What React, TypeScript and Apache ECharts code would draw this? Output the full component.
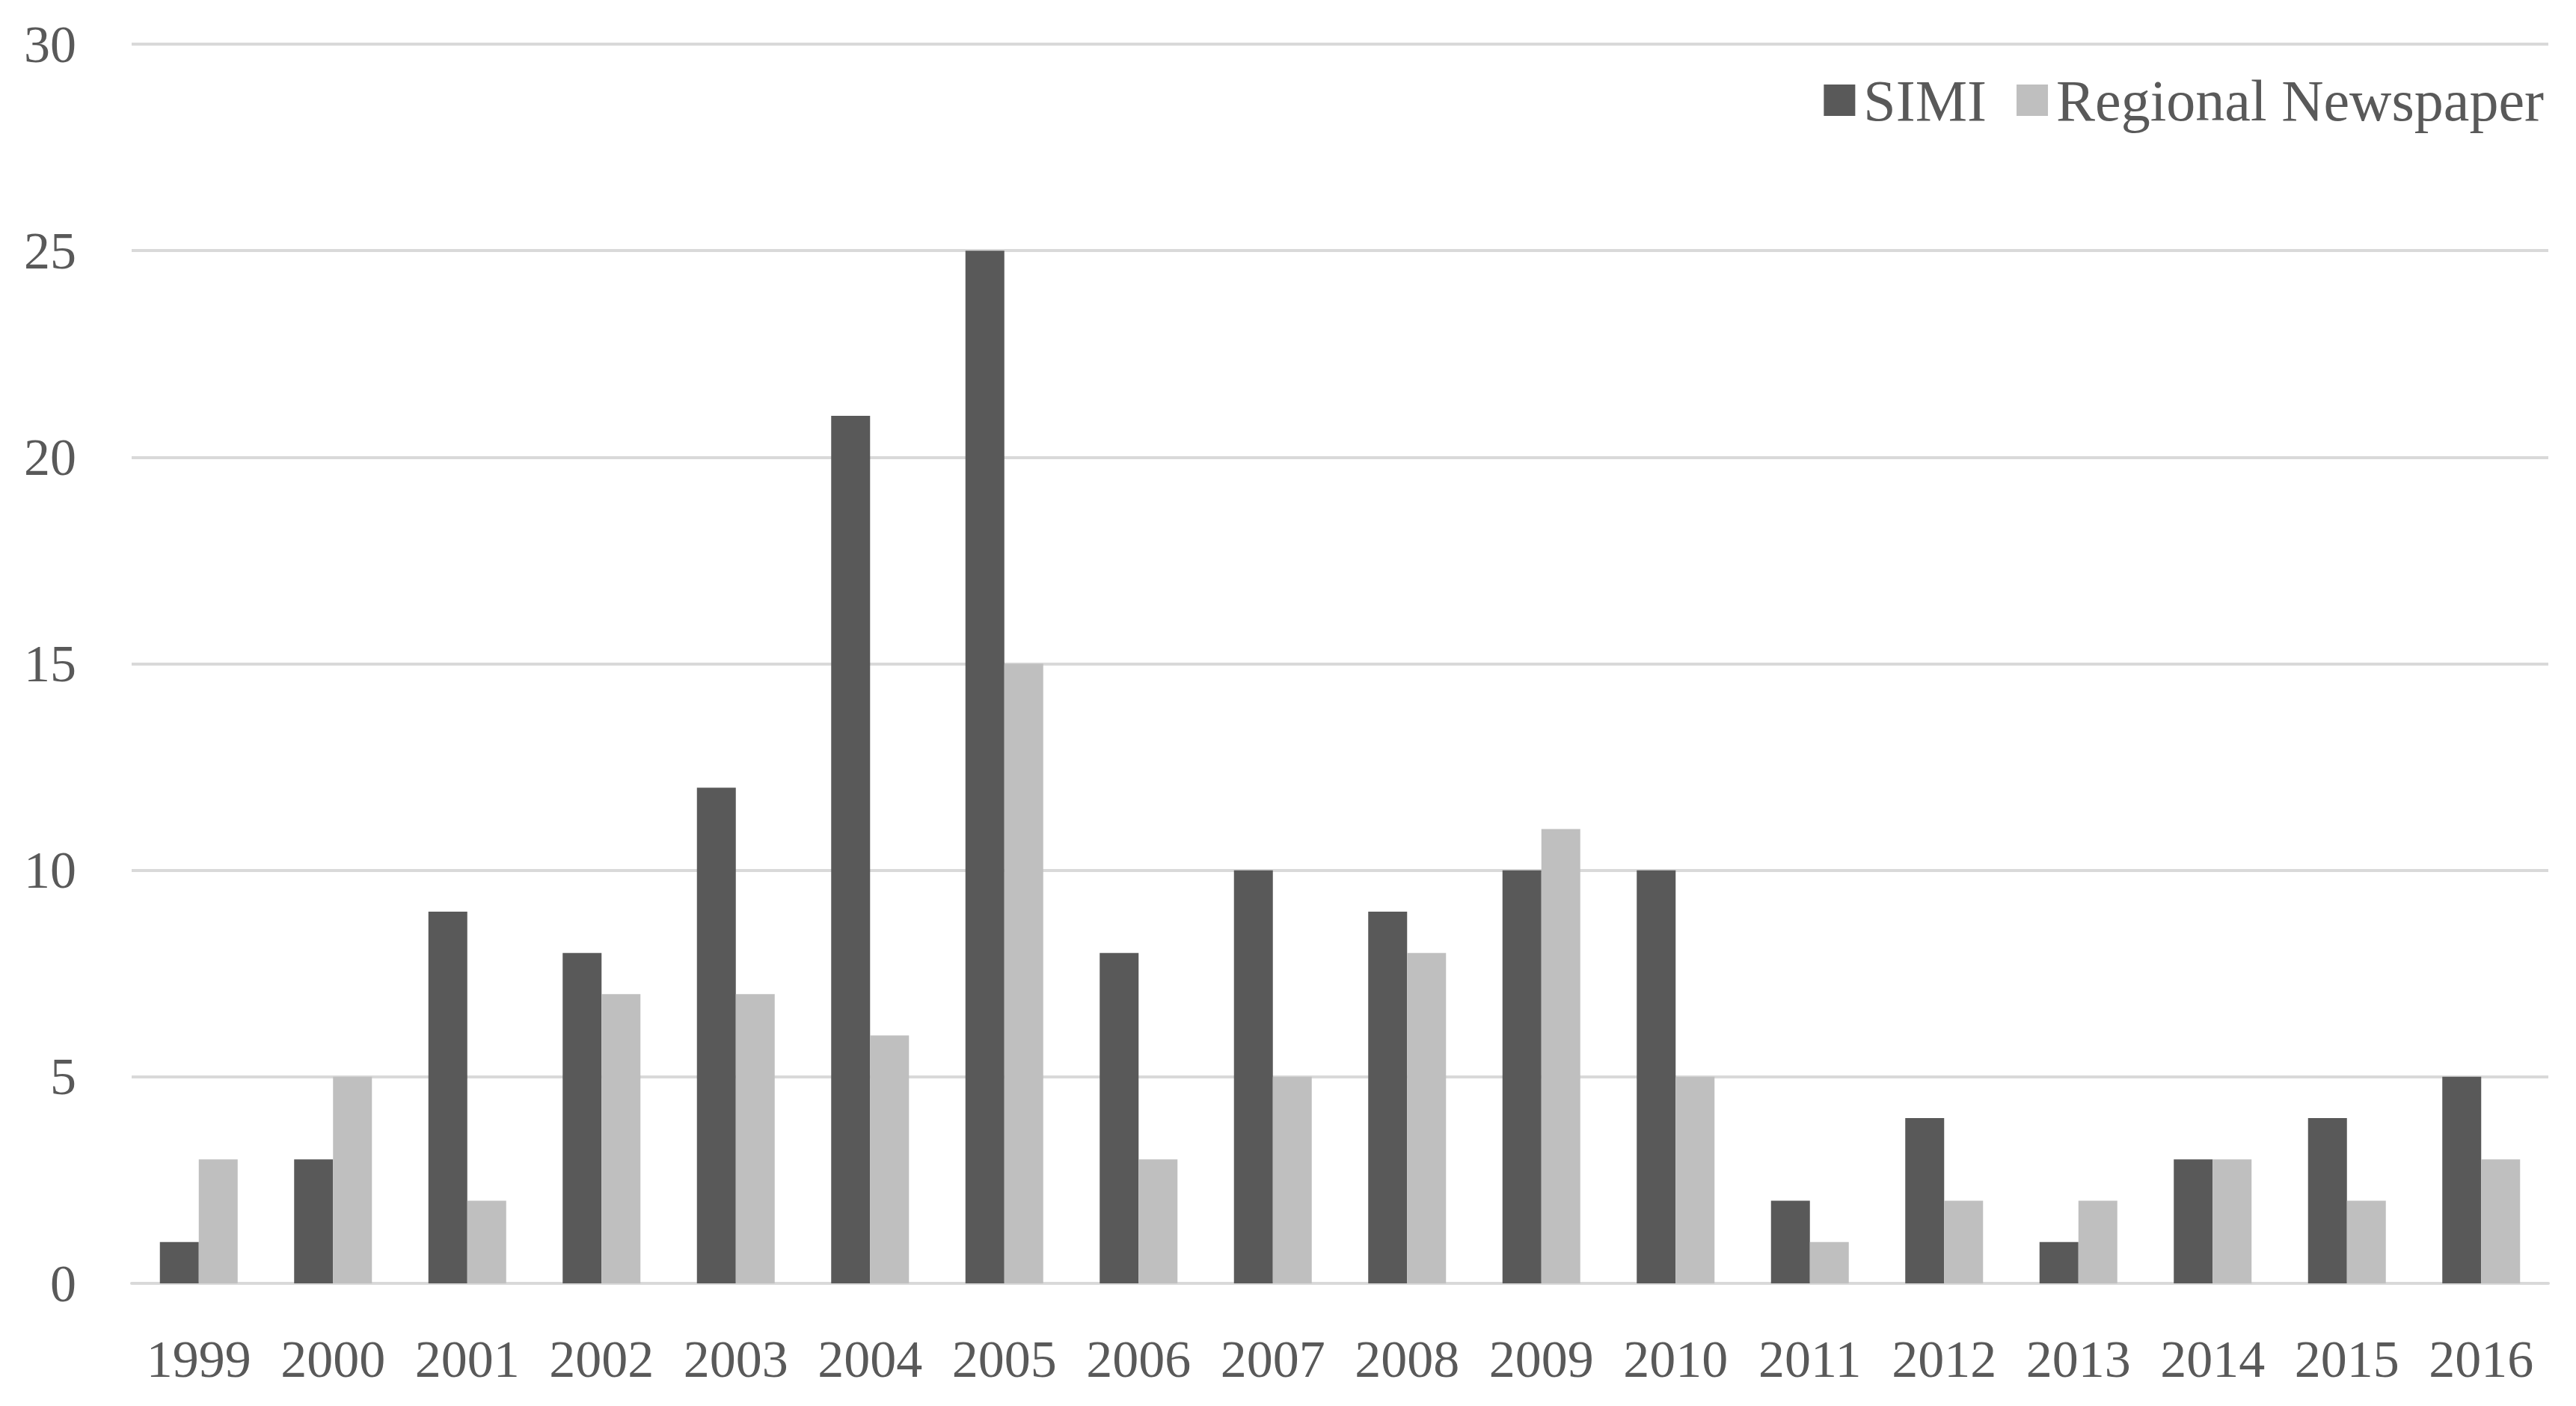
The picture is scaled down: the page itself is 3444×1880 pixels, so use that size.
import React, { useEffect, useRef } from "react";
import * as echarts from "echarts";

const years = ["1999","2000","2001","2002","2003","2004","2005","2006","2007","2008","2009","2010","2011","2012","2013","2014","2015","2016"];
const simi = [1,3,9,8,12,21,25,8,10,9,10,10,2,4,1,3,4,5];
const regional = [3,5,2,7,7,6,15,3,5,8,11,5,1,2,2,3,2,3];

const FONT = "'Liberation Serif', 'DejaVu Serif', serif";

export default function App() {
  const ref = useRef<HTMLDivElement>(null);
  useEffect(() => {
    if (!ref.current) return;
    const chart = echarts.init(ref.current, null, { renderer: "svg" });
    chart.setOption({
      animation: false,
      backgroundColor: "#ffffff",
      grid: { left: 168, right: 29, top: 51, bottom: 156, containLabel: false },
      legend: {
        right: 30,
        top: 82,
        itemWidth: 42,
        itemHeight: 42,
        itemGap: 40,
        icon: "rect",
        textStyle: { fontFamily: FONT, fontSize: 78, color: "#595959", padding: [0, 0, 0, 6] },
        data: ["SIMI", "Regional Newspaper"],
      },
      xAxis: {
        type: "category",
        data: years,
        axisLine: { show: true, lineStyle: { color: "#D9D9D9", width: 4 } },
        axisTick: { show: false },
        axisLabel: { fontFamily: FONT, fontSize: 70, color: "#595959", margin: 66, interval: 0 },
      },
      yAxis: {
        type: "value",
        min: 0,
        max: 30,
        interval: 5,
        axisLine: { show: false },
        axisTick: { show: false },
        splitLine: { lineStyle: { color: "#D9D9D9", width: 4 } },
        axisLabel: { fontFamily: FONT, fontSize: 70, color: "#595959", margin: 74 },
      },
      series: [
        {
          name: "SIMI",
          type: "bar",
          data: simi,
          barWidth: 52,
          barGap: "0%",
          itemStyle: { color: "#595959" },
        },
        {
          name: "Regional Newspaper",
          type: "bar",
          data: regional,
          barWidth: 52,
          barGap: "0%",
          itemStyle: { color: "#BFBFBF" },
        },
      ],
    });
    return () => chart.dispose();
  }, []);
  return <div ref={ref} style={{ width: 3428, height: 1864 }} />;
}
